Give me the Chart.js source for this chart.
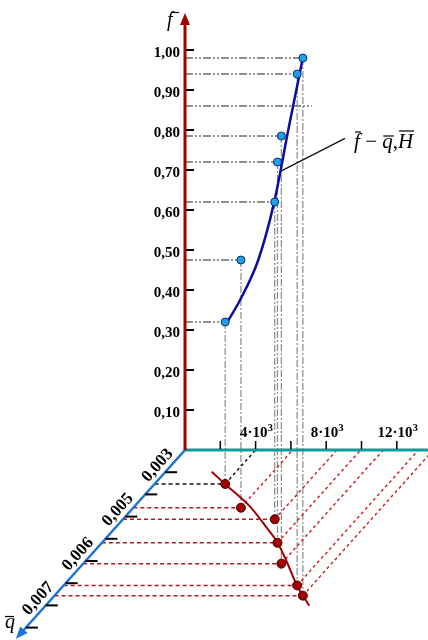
<!DOCTYPE html>
<html>
<head>
<meta charset="utf-8">
<script src="https://cdn.jsdelivr.net/npm/chart.js@4.4.1/dist/chart.umd.min.js"></script>
<style>
  html, body { margin: 0; padding: 0; background: #fff; }
  #nomo { display: block; }
</style>
</head>
<body>
<canvas id="nomo" width="428" height="640"></canvas>
<script>
// f axis (vertical)
var fTicks = [0.1, 0.2, 0.3, 0.4, 0.5, 0.6, 0.7, 0.8, 0.9, 1.0];
var fTickLabels = ['0,10', '0,20', '0,30', '0,40', '0,50', '0,60', '0,70', '0,80', '0,90', '1,00'];
// H axis (horizontal), labels written as mantissa·10^3
var hTicks = [2000, 4000, 6000, 8000, 10000, 12000];
var hTickLabels = ['', '4·10', '', '8·10', '', '12·10'];
var hTickExp = '3';
// q axis (oblique, non uniform ticks)
var qTicks = [0.003, 0.004, 0.005, 0.0055, 0.006, 0.0065, 0.007, 0.0075];
var qTickLabels = ['0,003', '', '0,005', '', '0,006', '', '0,007', ''];

// measured points
var pointH = [4000, 6100, 8600, 9950, 11230, 13230, 14070];
var pointQ = [0.00353, 0.0046, 0.00506, 0.00559, 0.00606, 0.00655, 0.00678];
var pointF = [0.32, 0.475, 0.62, 0.72, 0.785, 0.94, 0.98];
var extraF = 0.86;

// fitted curve f - q,H (front view)
var fitX = [2360, 3120, 4150, 5060, 5850, 6670];
var fitF = [0.317, 0.375, 0.475, 0.621, 0.80, 0.979];

// base curve q(H)
var baseH = [2620, 3990, 6560, 8780, 9960, 11550, 13180, 14950];
var baseQ = [0.00298, 0.00353, 0.00455, 0.0053, 0.00559, 0.00605, 0.00654, 0.00701];

// one q tick step of the oblique axis, in H and f units
var QX = -1127, QY = -0.0555;

function qIdx(q) {
    if (q <= qTicks[0]) return 1 + (q - qTicks[0]) / (qTicks[1] - qTicks[0]);
    for (var i = 1; i < qTicks.length; i++) {
        if (q <= qTicks[i]) return i + (q - qTicks[i - 1]) / (qTicks[i] - qTicks[i - 1]);
    }
    return qTicks.length;
}
function base(h, q) {
    var k = qIdx(q);
    return { x: h + k * QX, y: k * QY };
}

var ds = [];
function addLine(pts, color, dash, width, order) {
    ds.push({
        data: pts, showLine: true, borderColor: color, borderDash: dash || [],
        borderWidth: width, pointRadius: 0, pointHoverRadius: 0, tension: 0,
        order: order == null ? 3 : order
    });
}

// points
ds.push({
    data: pointH.map(function (h, i) { return { x: base(h, pointQ[i]).x, y: pointF[i] }; }),
    pointRadius: 4, backgroundColor: '#1fa0e8', borderColor: '#0b2a6e', borderWidth: 1, order: 0
});
ds.push({
    data: pointH.map(function (h, i) { return base(h, pointQ[i]); }),
    pointRadius: 4.5, backgroundColor: '#a30000', borderColor: '#3a0000', borderWidth: 1, order: 0
});

// curves
ds.push({
    data: fitX.map(function (x, i) { return { x: x, y: fitF[i] }; }),
    showLine: true, borderColor: '#0d0d9c', borderWidth: 2.5, pointRadius: 0,
    cubicInterpolationMode: 'monotone', order: 1
});
ds.push({
    data: baseH.map(function (h, i) { return base(h, baseQ[i]); }),
    showLine: true, borderColor: '#a00000', borderWidth: 2, pointRadius: 0,
    tension: 0.3, order: 1
});

// projection lines
pointH.forEach(function (h, i) {
    var b = base(h, pointQ[i]);
    var k = qIdx(pointQ[i]);
    addLine([{ x: 0, y: pointF[i] }, { x: b.x, y: pointF[i] }], '#222', [8, 2, 2, 2, 2, 2], 1);
    addLine([{ x: b.x, y: pointF[i] }, b], '#8a8a8a', [7, 2, 2, 2], 1.2);
    addLine([{ x: k * QX, y: k * QY }, b], i === 0 ? '#111' : '#b3191c', [4, 3], 1.5);
    addLine([b, { x: h, y: 0 }], i === 0 ? '#111' : '#c8262a', [3, 3], 1.5);
});
addLine([{ x: 0, y: extraF }, { x: 7180, y: extraF }], '#222', [8, 2, 2, 2, 2, 2], 1);

// leader to the curve label
addLine([{ x: 5380, y: 0.696 }, { x: 9065, y: 0.779 }], '#111', [], 1.2, 2);

var axesPlugin = {
    id: 'axes3d',
    afterDatasetsDraw: function (chart) {
        var ctx = chart.ctx, sx = chart.scales.x, sy = chart.scales.y;
        function X(v) { return sx.getPixelForValue(v); }
        function Y(v) { return sy.getPixelForValue(v); }
        var x0 = X(0), y0 = Y(0);
        ctx.save();
        ctx.setLineDash([]);

        // H axis
        ctx.strokeStyle = '#0a9a9a';
        ctx.lineWidth = 3;
        ctx.beginPath(); ctx.moveTo(x0, y0); ctx.lineTo(chart.width, y0); ctx.stroke();

        // q axis with arrow
        var tx = X(8.5 * QX), ty = Y(8.5 * QY);
        var dx = tx - x0, dy = ty - y0, len = Math.sqrt(dx * dx + dy * dy);
        var ux = dx / len, uy = dy / len;
        ctx.strokeStyle = '#1b74d2';
        ctx.fillStyle = '#1b74d2';
        ctx.lineWidth = 2.5;
        ctx.beginPath(); ctx.moveTo(x0, y0); ctx.lineTo(tx - ux * 6, ty - uy * 6); ctx.stroke();
        ctx.beginPath();
        ctx.moveTo(tx, ty);
        ctx.lineTo(tx - ux * 12 - uy * 5, ty - uy * 12 + ux * 5);
        ctx.lineTo(tx - ux * 12 + uy * 5, ty - uy * 12 - ux * 5);
        ctx.closePath(); ctx.fill();

        // f axis with arrow
        var fy = Y(1.0925);
        ctx.strokeStyle = '#a50000';
        ctx.fillStyle = '#a50000';
        ctx.lineWidth = 3;
        ctx.beginPath(); ctx.moveTo(x0, y0); ctx.lineTo(x0, fy + 8); ctx.stroke();
        ctx.beginPath();
        ctx.moveTo(x0, fy); ctx.lineTo(x0 - 5, fy + 12); ctx.lineTo(x0 + 5, fy + 12);
        ctx.closePath(); ctx.fill();

        ctx.fillStyle = '#000';
        ctx.strokeStyle = '#000';

        // f ticks
        ctx.font = 'bold 15px "Liberation Serif"';
        ctx.textAlign = 'right';
        ctx.textBaseline = 'middle';
        ctx.lineWidth = 2;
        fTicks.forEach(function (f, i) {
            var y = Y(f);
            ctx.beginPath(); ctx.moveTo(x0 + 1, y); ctx.lineTo(x0 + 9, y); ctx.stroke();
            ctx.fillText(fTickLabels[i], x0 - 5, y + 3);
        });

        // H ticks, mantissa·10 with raised exponent
        ctx.textAlign = 'left';
        ctx.textBaseline = 'alphabetic';
        ctx.lineWidth = 1.5;
        hTicks.forEach(function (h, i) {
            var x = X(h);
            ctx.beginPath(); ctx.moveTo(x, y0 - 9); ctx.lineTo(x, y0 - 1); ctx.stroke();
            if (hTickLabels[i]) {
                ctx.font = 'bold 15px "Liberation Serif"';
                var w1 = ctx.measureText(hTickLabels[i]).width;
                ctx.font = 'bold 11px "Liberation Serif"';
                var w2 = ctx.measureText(hTickExp).width;
                var left = x + 1 - (w1 + w2) / 2;
                ctx.font = 'bold 15px "Liberation Serif"';
                ctx.fillText(hTickLabels[i], left, y0 - 13);
                ctx.font = 'bold 11px "Liberation Serif"';
                ctx.fillText(hTickExp, left + w1, y0 - 19);
            }
        });

        // q ticks
        var ang = Math.atan2(-uy, -ux);
        ctx.textAlign = 'center';
        ctx.lineWidth = 2;
        ctx.font = 'bold 17px "Liberation Serif"';
        qTicks.forEach(function (q, i) {
            var k = i + 1;
            var ax = X(k * QX), ay = Y(k * QY);
            ctx.beginPath(); ctx.moveTo(ax, ay); ctx.lineTo(ax + 12, ay); ctx.stroke();
            if (qTickLabels[i]) {
                ctx.save();
                ctx.translate(ax - uy * 10, ay + ux * 10);
                ctx.rotate(ang);
                ctx.textBaseline = 'middle';
                ctx.fillText(qTickLabels[i], 0, 0);
                ctx.restore();
            }
        });

        // axis titles
        ctx.lineWidth = 1.2;
        ctx.textAlign = 'left';
        ctx.textBaseline = 'alphabetic';
        ctx.font = 'italic 20px "Liberation Serif"';
        ctx.fillText('f', x0 - 18, 26);
        ctx.beginPath(); ctx.moveTo(x0 - 14, 12.5); ctx.lineTo(x0 - 6, 12.5); ctx.stroke();
        ctx.fillText('q', 5, 628);
        ctx.beginPath(); ctx.moveTo(5, 616.5); ctx.lineTo(14, 616.5); ctx.stroke();

        // curve label
        var parts = [
            { t: 'f', it: true, bar: 16 }, { t: ' − ' }, { t: 'q', it: true, bar: 12 },
            { t: ',' }, { t: 'H', it: true, bar: 17 }
        ];
        var lx = X(9580), ly = Y(0.755);
        parts.forEach(function (p) {
            ctx.font = (p.it ? 'italic ' : '') + '21px "Liberation Serif"';
            var w = ctx.measureText(p.t).width;
            ctx.fillText(p.t, lx, ly);
            if (p.bar) {
                ctx.beginPath(); ctx.moveTo(lx + 1, ly - p.bar); ctx.lineTo(lx + w + 1, ly - p.bar); ctx.stroke();
            }
            lx += w;
        });
        ctx.restore();
    }
};

new Chart(document.getElementById('nomo').getContext('2d'), {
    type: 'scatter',
    data: { datasets: ds },
    options: {
        responsive: false,
        animation: false,
        events: [],
        layout: { padding: 0, autoPadding: false },
        plugins: { legend: { display: false }, tooltip: { enabled: false } },
        scales: {
            x: { type: 'linear', min: -10482, max: 13768, display: false },
            y: { type: 'linear', min: -0.475, max: 1.125, display: false }
        }
    },
    plugins: [axesPlugin]
});
</script>
</body>
</html>
